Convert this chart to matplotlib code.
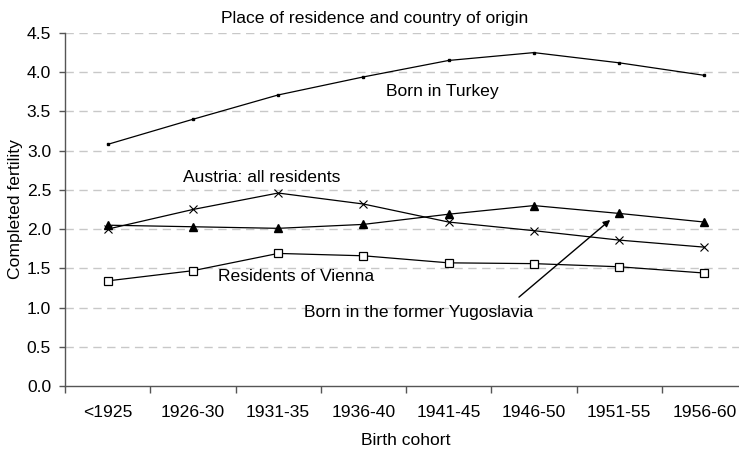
import numpy as np
import matplotlib.pyplot as plt

plt.rcParams['font.family'] = ['Liberation Sans', 'DejaVu Sans']

cohorts = ["<1925", "1926-30", "1931-35", "1936-40", "1941-45", "1946-50", "1951-55", "1956-60"]
turkey = [3.08, 3.40, 3.71, 3.94, 4.15, 4.25, 4.12, 3.96]
austria = [2.00, 2.25, 2.46, 2.32, 2.09, 1.98, 1.86, 1.77]
yugoslavia = [2.05, 2.03, 2.01, 2.06, 2.19, 2.30, 2.20, 2.09]
vienna = [1.34, 1.47, 1.69, 1.66, 1.57, 1.56, 1.52, 1.44]

fs = 12.6

fig = plt.figure(figsize=(7.39, 4.5), dpi=100)
ax = fig.add_axes([65/739, 64/450, 682/739, 353/450])
x = np.arange(len(cohorts))

ax.plot(x, turkey, color='black', lw=0.9, marker='s', ms=1.6, mfc='black', clip_on=False)
ax.plot(x, austria, color='black', lw=0.9, marker='x', ms=6, mew=0.8, clip_on=False)
ax.plot(x, yugoslavia, color='black', lw=0.9, marker='^', ms=6, mfc='black', clip_on=False)
ax.plot(x, vienna, color='black', lw=0.9, marker='s', ms=6, mfc='white', mew=0.9, clip_on=False)

ax.set_xlim(-0.5, 7.5)
ax.set_ylim(0, 4.5)
ax.set_yticks(np.arange(0, 4.51, 0.5))
ax.set_yticklabels([f"{v:.1f}" for v in np.arange(0, 4.51, 0.5)])
ax.set_xticks(x)
ax.set_xticklabels(cohorts)
ax.set_xticks(np.arange(-0.5, 7.5, 1), minor=True)
ax.tick_params(axis='x', which='major', length=0, pad=14, labelsize=fs)
ax.tick_params(axis='x', which='minor', length=5, width=1, color='#555555')
ax.tick_params(axis='y', length=4, width=1, color='#555555', labelsize=fs, pad=6)

for yv in np.arange(0.5, 4.51, 0.5):
    ax.axhline(yv, color='#c8c8c8', lw=1, ls=(0, (6, 4)), zorder=0)

for s in ['top', 'right']:
    ax.spines[s].set_visible(False)
for s in ['left', 'bottom']:
    ax.spines[s].set_color('#555555')
    ax.spines[s].set_linewidth(1)

ax.set_ylabel("Completed fertility", fontsize=fs, labelpad=3)
ax.set_xlabel("Birth cohort", fontsize=fs, labelpad=9)
fig.text(375/739, 1 - 19/450, "Place of residence and country of origin", ha='center', va='center', fontsize=fs)

ax.text(3.27, 3.75, "Born in Turkey", fontsize=fs, va='center')
ax.text(0.88, 2.66, "Austria: all residents", fontsize=fs, va='center')
ax.text(1.3, 1.39, "Residents of Vienna", fontsize=fs, va='center')
ax.text(2.3, 0.94, "Born in the former Yugoslavia", fontsize=fs, va='center')
ax.annotate("", xy=(5.92, 2.14), xytext=(4.8, 1.11),
            arrowprops=dict(arrowstyle='-|>', color='black', lw=1, mutation_scale=10))

fig.savefig("out.png", dpi=100)
